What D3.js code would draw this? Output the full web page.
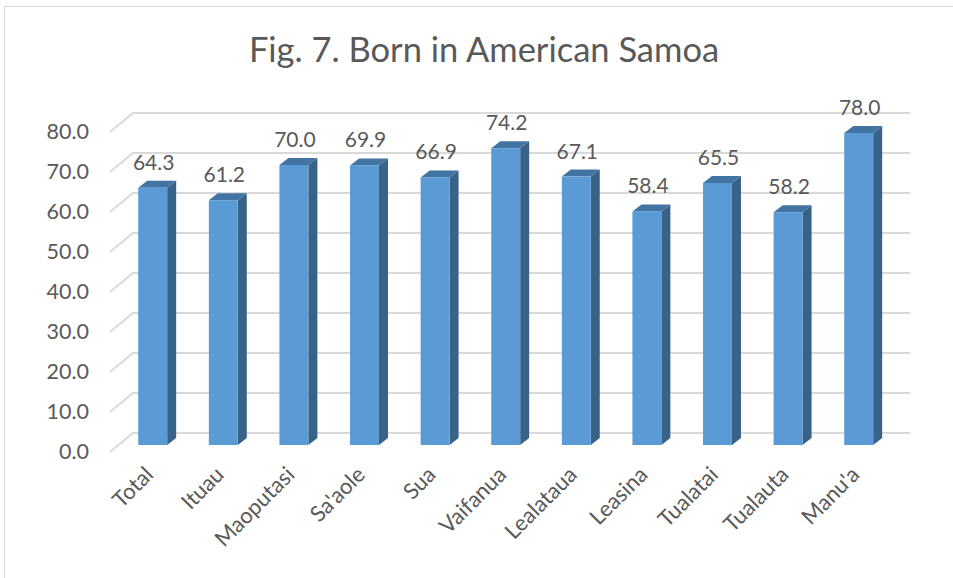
<!DOCTYPE html>
<html>
<head>
    <script src="https://d3js.org/d3.v7.min.js"></script>
    <style>
        body { margin: 0; background: #fff; }
        text { font-family: Lato, Carlito, Calibri, sans-serif; fill: #595959; }
    </style>
</head>
<body>
<script>
const categories = ['Total', 'Ituau', 'Maoputasi', "Sa'aole", 'Sua', 'Vaifanua', 'Lealataua', 'Leasina', 'Tualatai', 'Tualauta', "Manu'a"];
const values = [64.3, 61.2, 70.0, 69.9, 66.9, 74.2, 67.1, 58.4, 65.5, 58.2, 78.0];
const yTicks = [0, 10, 20, 30, 40, 50, 60, 70, 80];

const width = 953, height = 578;
// 3D offsets: wall depth and bar depth
const wallDx = 23, wallDy = 19;
const barDx = 9, barDy = 7;

const svg = d3.select('body').append('svg')
    .attr('width', width)
    .attr('height', height);

svg.append('rect')
    .attr('x', 4.5).attr('y', 6.5)
    .attr('width', width + 10).attr('height', height + 10)
    .attr('fill', '#fff')
    .attr('stroke', '#d9d9d9');

svg.append('text')
    .attr('x', 484).attr('y', 62)
    .attr('text-anchor', 'middle')
    .style('font-size', '34.5px')
    .text('Fig. 7. Born in American Samoa');

// back wall scale and front (bar) scale
const yBack = d3.scaleLinear().domain([0, 80]).range([433, 113]);
const yBar = d3.scaleLinear().domain([0, 80]).range([445, 125]);
const yLabel = d3.scaleLinear().domain([0, 80]).range([452, 132]);

const backLeft = 133, backRight = 910;

const grid = svg.append('g').attr('stroke', '#d9d9d9').attr('stroke-width', 2).attr('fill', 'none');
yTicks.forEach(t => {
    grid.append('path')
        .attr('d', `M${backLeft - wallDx},${yBack(t) + wallDy}L${backLeft},${yBack(t)}L${backRight},${yBack(t)}`);
});

const yAxis = svg.append('g')
    .attr('transform', 'translate(89,0)')
    .call(d3.axisLeft(yLabel).tickValues(yTicks).tickSize(0).tickPadding(0).tickFormat(d3.format('.1f')));
yAxis.select('.domain').remove();
yAxis.selectAll('text').style('font-size', '21.5px').attr('fill', '#595959').style('font-family', 'Lato, sans-serif');

const x = d3.scaleBand()
    .domain(categories)
    .range([117.4, 894])
    .paddingInner(0.59)
    .paddingOuter(0.295);

const bw = x.bandwidth();
const bars = svg.append('g').selectAll('g')
    .data(categories.map((c, i) => ({c, v: values[i]})))
    .join('g');

// side face
bars.append('path')
    .attr('fill', '#386287')
    .attr('d', d => {
        const x1 = x(d.c) + bw, yt = yBar(d.v), yb = yBar(0);
        return `M${x1},${yt}L${x1 + barDx},${yt - barDy}L${x1 + barDx},${yb - barDy}L${x1},${yb}Z`;
    });
// top face
bars.append('path')
    .attr('fill', '#4274a3')
    .attr('d', d => {
        const x0 = x(d.c), yt = yBar(d.v);
        return `M${x0},${yt}L${x0 + barDx},${yt - barDy}L${x0 + bw + barDx},${yt - barDy}L${x0 + bw},${yt}Z`;
    });
// front face
bars.append('rect')
    .attr('fill', '#5b9bd5')
    .attr('x', d => x(d.c))
    .attr('y', d => yBar(d.v))
    .attr('width', bw)
    .attr('height', d => yBar(0) - yBar(d.v));

bars.append('text')
    .attr('x', d => x(d.c) + bw / 2 + 1)
    .attr('y', d => yBar(d.v) - 18)
    .attr('text-anchor', 'middle')
    .style('font-size', '21px')
    .text(d => d.v.toFixed(1));

svg.append('g').selectAll('text')
    .data(categories)
    .join('text')
    .attr('text-anchor', 'end')
    .style('font-size', '22px')
    .attr('transform', d => `translate(${x(d) + bw / 2 + 2},${476}) rotate(-45)`)
    .text(d => d);
</script>
</body>
</html>
